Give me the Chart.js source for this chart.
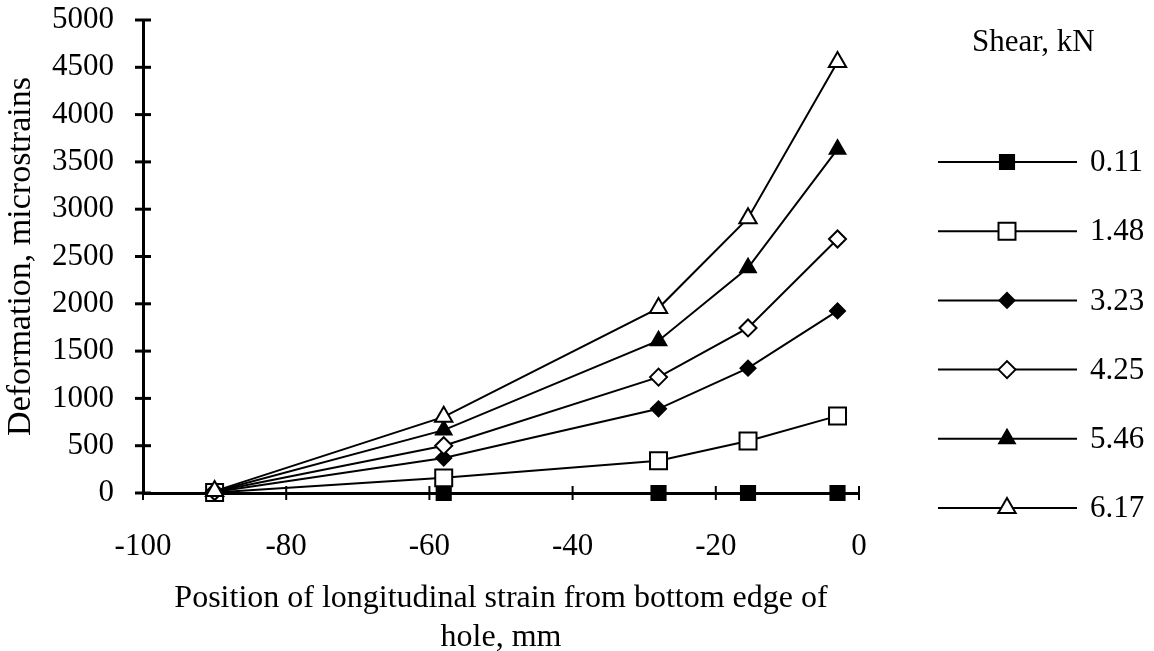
<!DOCTYPE html>
<html>
<head>
<meta charset="utf-8">
<script src="https://cdn.jsdelivr.net/npm/chart.js@4.4.1/dist/chart.umd.min.js"></script>
<style>
  html, body { margin: 0; padding: 0; background: #fff; }
</style>
</head>
<body>
<canvas id="strainChart" width="1154" height="651"></canvas>
<script>
// gauge positions (mm from bottom edge of hole)
var positions = [-90, -58, -28, -15.5, -3];

// shear levels, kN
var shearLabels = ["0.11", "1.48", "3.23", "4.25", "5.46", "6.17"];

// deformation in microstrains at each gauge
var shear011 = [0, 0, 0, 0, 0];
var shear148 = [5, 160, 340, 550, 815];
var shear323 = [10, 370, 890, 1320, 1925];
var shear425 = [15, 500, 1225, 1745, 2685];
var shear546 = [15, 665, 1610, 2380, 3635];
var shear617 = [20, 805, 1955, 2905, 4555];

var yTicks = [0, 500, 1000, 1500, 2000, 2500, 3000, 3500, 4000, 4500, 5000];
var xTicks = [-100, -80, -60, -40, -20, 0];

var FONT = "'Liberation Serif', 'Times New Roman', serif";

function toPoints(values) {
  return values.map(function (v, i) {
    return { x: positions[i], y: v };
  });
}

// marker styles per series
var markers = [
  { pointStyle: "rect", radius: 10, fill: "#000" },
  { pointStyle: "rect", radius: 12, fill: "#fff" },
  { pointStyle: "rectRot", radius: 7.5, fill: "#000" },
  { pointStyle: "rectRot", radius: 8.5, fill: "#fff" },
  { pointStyle: "triangle", radius: 9, fill: "#000" },
  { pointStyle: "triangle", radius: 10, fill: "#fff" }
];

var seriesValues = [shear011, shear148, shear323, shear425, shear546, shear617];

var datasets = seriesValues.map(function (vals, i) {
  return {
    label: shearLabels[i],
    data: toPoints(vals),
    showLine: true,
    borderColor: "#000",
    borderWidth: 2,
    pointStyle: markers[i].pointStyle,
    pointRadius: markers[i].radius,
    pointHoverRadius: markers[i].radius,
    pointBackgroundColor: markers[i].fill,
    pointBorderColor: "#000",
    pointBorderWidth: 2,
    clip: false,
    tension: 0,
    // later series sit on top
    order: seriesValues.length - i
  };
});

// tick marks crossing both axes
var crossTicks = {
  id: "crossTicks",
  beforeDatasetsDraw: function (chart) {
    var ctx = chart.ctx;
    var xs = chart.scales.x, ys = chart.scales.y;
    var area = chart.chartArea;
    ctx.save();
    ctx.strokeStyle = "#000";
    ctx.lineWidth = 3;
    yTicks.forEach(function (v) {
      var py = ys.getPixelForValue(v);
      ctx.beginPath();
      ctx.moveTo(area.left - 8, py);
      ctx.lineTo(area.left + 8, py);
      ctx.stroke();
    });
    ctx.lineWidth = 2;
    xTicks.forEach(function (v) {
      var px = xs.getPixelForValue(v);
      ctx.beginPath();
      ctx.moveTo(px, area.bottom - 7);
      ctx.lineTo(px, area.bottom + 7);
      ctx.stroke();
    });
    ctx.restore();
  }
};

// legend on the right: line segment with marker in the middle
var shearLegend = {
  id: "shearLegend",
  afterDraw: function (chart) {
    var ctx = chart.ctx;
    ctx.save();
    ctx.fillStyle = "#000";
    ctx.font = "31px " + FONT;
    ctx.textBaseline = "middle";
    ctx.textAlign = "left";
    ctx.fillText("Shear, kN", 972, 43);
    chart.data.datasets.forEach(function (ds, i) {
      var y = 162 + i * 69.2;
      ctx.strokeStyle = "#000";
      ctx.lineWidth = 2;
      ctx.beginPath();
      ctx.moveTo(938, y);
      ctx.lineTo(1077, y);
      ctx.stroke();
      ctx.fillStyle = ds.pointBackgroundColor;
      ctx.strokeStyle = "#000";
      ctx.lineWidth = 2;
      Chart.helpers.drawPoint(ctx, {
        pointStyle: ds.pointStyle,
        radius: ds.pointRadius,
        borderWidth: 2,
        rotation: 0
      }, 1007, y);
      ctx.fillStyle = "#000";
      ctx.fillText(ds.label, 1090, y + 1);
    });
    ctx.restore();
  }
};

var ctx = document.getElementById("strainChart").getContext("2d");
var strainChart = new Chart(ctx, {
  type: "scatter",
  data: { datasets: datasets },
  plugins: [crossTicks, shearLegend],
  options: {
    responsive: false,
    animation: false,
    layout: { padding: { top: 20, right: 295, bottom: 0, left: 0 } },
    plugins: {
      legend: { display: false },
      tooltip: { enabled: false }
    },
    scales: {
      x: {
        type: "linear",
        min: -100,
        max: 0,
        afterFit: function (scale) {
          scale.height = 158;
          scale.paddingLeft = 0;
          scale.paddingRight = 0;
        },
        afterBuildTicks: function (scale) {
          scale.ticks = xTicks.map(function (v) { return { value: v }; });
        },
        grid: { display: false },
        border: { display: true, color: "#000", width: 3 },
        ticks: {
          color: "#000",
          padding: 27,
          maxRotation: 0,
          font: { family: FONT, size: 31 },
          callback: function (v) { return String(v); }
        },
        title: {
          display: true,
          text: ["Position of longitudinal strain from bottom edge of", "hole, mm"],
          color: "#000",
          font: { family: FONT, size: 32, lineHeight: "39px" },
          padding: { top: 0, bottom: -6 }
        }
      },
      y: {
        type: "linear",
        min: 0,
        max: 5000,
        afterFit: function (scale) {
          scale.width = 143;
          scale.paddingTop = 0;
          scale.paddingBottom = 0;
        },
        afterBuildTicks: function (scale) {
          scale.ticks = yTicks.map(function (v) { return { value: v }; });
        },
        grid: { display: false },
        border: { display: true, color: "#000", width: 3 },
        ticks: {
          color: "#000",
          padding: 21,
          font: { family: FONT, size: 31 },
          callback: function (v) { return String(v); }
        },
        title: {
          display: true,
          text: "Deformation, microstrains",
          color: "#000",
          font: { family: FONT, size: 34, lineHeight: 1.2 },
          padding: { top: 1, bottom: 0 }
        }
      }
    }
  }
});
</script>
</body>
</html>
